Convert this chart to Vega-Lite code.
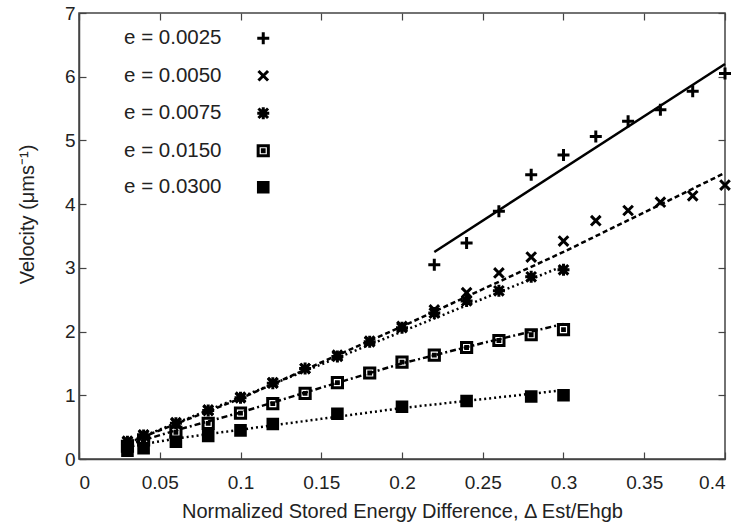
{
  "$schema": "https://vega.github.io/schema/vega-lite/v6.json",
  "autosize": {"type": "none"},
  "width": 646,
  "height": 446,
  "padding": {"left": 79, "top": 13, "right": 18, "bottom": 71},
  "background": "white",
  "config": {
    "view": {"stroke": "#444", "strokeWidth": 1.5},
    "font": "Liberation Sans",
    "axis": {
      "grid": false,
      "domainColor": "#444",
      "domainWidth": 1.5,
      "tickColor": "#444",
      "tickWidth": 1.2,
      "tickSize": -7,
      "labelFont": "Liberation Sans",
      "labelFontSize": 19,
      "labelColor": "#222",
      "titleFont": "Liberation Sans",
      "titleFontSize": 20,
      "titleFontWeight": "normal",
      "titleColor": "#222"
    }
  },
  "datasets": {
    "pts": [
      {"series": "e = 0.0025", "x": 0.22, "v": 3.05},
      {"series": "e = 0.0025", "x": 0.24, "v": 3.39},
      {"series": "e = 0.0025", "x": 0.26, "v": 3.89},
      {"series": "e = 0.0025", "x": 0.28, "v": 4.46},
      {"series": "e = 0.0025", "x": 0.30, "v": 4.77},
      {"series": "e = 0.0025", "x": 0.32, "v": 5.06},
      {"series": "e = 0.0025", "x": 0.34, "v": 5.30},
      {"series": "e = 0.0025", "x": 0.36, "v": 5.48},
      {"series": "e = 0.0025", "x": 0.38, "v": 5.77},
      {"series": "e = 0.0025", "x": 0.40, "v": 6.05},
      {"series": "e = 0.0050", "x": 0.03, "v": 0.28},
      {"series": "e = 0.0050", "x": 0.04, "v": 0.38},
      {"series": "e = 0.0050", "x": 0.06, "v": 0.57},
      {"series": "e = 0.0050", "x": 0.08, "v": 0.77},
      {"series": "e = 0.0050", "x": 0.10, "v": 0.97},
      {"series": "e = 0.0050", "x": 0.12, "v": 1.20},
      {"series": "e = 0.0050", "x": 0.14, "v": 1.42},
      {"series": "e = 0.0050", "x": 0.16, "v": 1.63},
      {"series": "e = 0.0050", "x": 0.18, "v": 1.85},
      {"series": "e = 0.0050", "x": 0.20, "v": 2.08},
      {"series": "e = 0.0050", "x": 0.22, "v": 2.34},
      {"series": "e = 0.0050", "x": 0.24, "v": 2.61},
      {"series": "e = 0.0050", "x": 0.26, "v": 2.92},
      {"series": "e = 0.0050", "x": 0.28, "v": 3.17},
      {"series": "e = 0.0050", "x": 0.30, "v": 3.42},
      {"series": "e = 0.0050", "x": 0.32, "v": 3.74},
      {"series": "e = 0.0050", "x": 0.34, "v": 3.90},
      {"series": "e = 0.0050", "x": 0.36, "v": 4.03},
      {"series": "e = 0.0050", "x": 0.38, "v": 4.13},
      {"series": "e = 0.0050", "x": 0.40, "v": 4.30},
      {"series": "e = 0.0075", "x": 0.03, "v": 0.27},
      {"series": "e = 0.0075", "x": 0.04, "v": 0.37},
      {"series": "e = 0.0075", "x": 0.06, "v": 0.56},
      {"series": "e = 0.0075", "x": 0.08, "v": 0.76},
      {"series": "e = 0.0075", "x": 0.10, "v": 0.96},
      {"series": "e = 0.0075", "x": 0.12, "v": 1.19},
      {"series": "e = 0.0075", "x": 0.14, "v": 1.42},
      {"series": "e = 0.0075", "x": 0.16, "v": 1.61},
      {"series": "e = 0.0075", "x": 0.18, "v": 1.84},
      {"series": "e = 0.0075", "x": 0.20, "v": 2.06},
      {"series": "e = 0.0075", "x": 0.22, "v": 2.29},
      {"series": "e = 0.0075", "x": 0.24, "v": 2.48},
      {"series": "e = 0.0075", "x": 0.26, "v": 2.64},
      {"series": "e = 0.0075", "x": 0.28, "v": 2.86},
      {"series": "e = 0.0075", "x": 0.30, "v": 2.97},
      {"series": "e = 0.0150", "x": 0.03, "v": 0.20},
      {"series": "e = 0.0150", "x": 0.04, "v": 0.30},
      {"series": "e = 0.0150", "x": 0.06, "v": 0.42},
      {"series": "e = 0.0150", "x": 0.08, "v": 0.56},
      {"series": "e = 0.0150", "x": 0.10, "v": 0.72},
      {"series": "e = 0.0150", "x": 0.12, "v": 0.87},
      {"series": "e = 0.0150", "x": 0.14, "v": 1.03},
      {"series": "e = 0.0150", "x": 0.16, "v": 1.20},
      {"series": "e = 0.0150", "x": 0.18, "v": 1.35},
      {"series": "e = 0.0150", "x": 0.20, "v": 1.52},
      {"series": "e = 0.0150", "x": 0.22, "v": 1.63},
      {"series": "e = 0.0150", "x": 0.24, "v": 1.75},
      {"series": "e = 0.0150", "x": 0.26, "v": 1.86},
      {"series": "e = 0.0150", "x": 0.28, "v": 1.95},
      {"series": "e = 0.0150", "x": 0.30, "v": 2.03},
      {"series": "e = 0.0300", "x": 0.03, "v": 0.13},
      {"series": "e = 0.0300", "x": 0.04, "v": 0.17},
      {"series": "e = 0.0300", "x": 0.06, "v": 0.27},
      {"series": "e = 0.0300", "x": 0.08, "v": 0.36},
      {"series": "e = 0.0300", "x": 0.10, "v": 0.45},
      {"series": "e = 0.0300", "x": 0.12, "v": 0.55},
      {"series": "e = 0.0300", "x": 0.16, "v": 0.71},
      {"series": "e = 0.0300", "x": 0.20, "v": 0.82},
      {"series": "e = 0.0300", "x": 0.24, "v": 0.91},
      {"series": "e = 0.0300", "x": 0.28, "v": 0.98},
      {"series": "e = 0.0300", "x": 0.30, "v": 1.00}
    ],
    "fits": [
      {"curve": "e = 0.0025", "x": 0.22, "v": 3.25},
      {"curve": "e = 0.0025", "x": 0.40, "v": 6.20},
      {"curve": "e = 0.0050", "x": 0.03, "v": 0.25},
      {"curve": "e = 0.0050", "x": 0.10, "v": 0.95},
      {"curve": "e = 0.0050", "x": 0.20, "v": 2.08},
      {"curve": "e = 0.0050", "x": 0.30, "v": 3.25},
      {"curve": "e = 0.0050", "x": 0.40, "v": 4.49},
      {"curve": "e = 0.0075", "x": 0.03, "v": 0.26},
      {"curve": "e = 0.0075", "x": 0.10, "v": 0.97},
      {"curve": "e = 0.0075", "x": 0.20, "v": 2.00},
      {"curve": "e = 0.0075", "x": 0.30, "v": 3.03},
      {"curve": "e = 0.0150", "x": 0.03, "v": 0.22},
      {"curve": "e = 0.0150", "x": 0.06, "v": 0.45},
      {"curve": "e = 0.0150", "x": 0.10, "v": 0.73},
      {"curve": "e = 0.0150", "x": 0.15, "v": 1.12},
      {"curve": "e = 0.0150", "x": 0.20, "v": 1.50},
      {"curve": "e = 0.0150", "x": 0.25, "v": 1.82},
      {"curve": "e = 0.0150", "x": 0.30, "v": 2.12},
      {"curve": "e = 0.0300", "x": 0.03, "v": 0.19},
      {"curve": "e = 0.0300", "x": 0.06, "v": 0.32},
      {"curve": "e = 0.0300", "x": 0.10, "v": 0.46},
      {"curve": "e = 0.0300", "x": 0.15, "v": 0.63},
      {"curve": "e = 0.0300", "x": 0.20, "v": 0.80},
      {"curve": "e = 0.0300", "x": 0.25, "v": 0.94},
      {"curve": "e = 0.0300", "x": 0.30, "v": 1.08}
    ]
  },
  "layer": [
    {
      "data": {"name": "fits"},
      "transform": [{"filter": {"field": "curve", "equal": "e = 0.0025"}}],
      "mark": {"type": "line", "color": "black", "strokeWidth": 2.5},
      "encoding": {
        "x": {"field": "x", "type": "quantitative", "scale": {"domain": [0, 0.4], "nice": false},
              "axis": {"orient": "top", "labels": false, "title": null, "values": [0, 0.05, 0.1, 0.15, 0.2, 0.25, 0.3, 0.35, 0.4], "domain": false}},
        "y": {"field": "v", "type": "quantitative", "scale": {"domain": [0, 7], "nice": false},
              "axis": {"orient": "right", "labels": false, "title": null, "values": [0, 1, 2, 3, 4, 5, 6, 7], "domain": false}}
      }
    },
    {
      "data": {"name": "fits"},
      "transform": [{"filter": {"field": "curve", "equal": "e = 0.0050"}}],
      "mark": {"type": "line", "color": "black", "strokeWidth": 2.5, "strokeDash": [5, 3]},
      "encoding": {
        "x": {"field": "x", "type": "quantitative", "scale": {"domain": [0, 0.4], "nice": false}, "axis": null},
        "y": {"field": "v", "type": "quantitative", "scale": {"domain": [0, 7], "nice": false}, "axis": null}
      }
    },
    {
      "data": {"name": "fits"},
      "transform": [{"filter": {"field": "curve", "equal": "e = 0.0075"}}],
      "mark": {"type": "line", "color": "black", "strokeWidth": 2.5, "strokeDash": [2, 3]},
      "encoding": {
        "x": {"field": "x", "type": "quantitative", "scale": {"domain": [0, 0.4], "nice": false}, "axis": null},
        "y": {"field": "v", "type": "quantitative", "scale": {"domain": [0, 7], "nice": false}, "axis": null}
      }
    },
    {
      "data": {"name": "fits"},
      "transform": [{"filter": {"field": "curve", "equal": "e = 0.0150"}}],
      "mark": {"type": "line", "color": "black", "strokeWidth": 2.5, "strokeDash": [6, 3, 2, 3]},
      "encoding": {
        "x": {"field": "x", "type": "quantitative", "scale": {"domain": [0, 0.4], "nice": false}, "axis": null},
        "y": {"field": "v", "type": "quantitative", "scale": {"domain": [0, 7], "nice": false}, "axis": null}
      }
    },
    {
      "data": {"name": "fits"},
      "transform": [{"filter": {"field": "curve", "equal": "e = 0.0300"}}],
      "mark": {"type": "line", "color": "black", "strokeWidth": 2.5, "strokeDash": [2, 3]},
      "encoding": {
        "x": {"field": "x", "type": "quantitative", "scale": {"domain": [0, 0.4], "nice": false}, "axis": null},
        "y": {"field": "v", "type": "quantitative", "scale": {"domain": [0, 7], "nice": false}, "axis": null}
      }
    },
    {
      "data": {"name": "pts"},
      "mark": {"type": "point", "filled": false, "stroke": "black", "strokeWidth": 3, "size": 144, "opacity": 1},
      "encoding": {
        "x": {"field": "x", "type": "quantitative", "scale": {"domain": [0, 0.4], "nice": false},
              "axis": {"orient": "bottom", "title": "Normalized Stored Energy Difference, Δ Est/Ehgb", "values": [0, 0.05, 0.1, 0.15, 0.2, 0.25, 0.3, 0.35, 0.4], "format": "~g", "labelPadding": 21, "titlePadding": 9}},
        "y": {"field": "v", "type": "quantitative", "scale": {"domain": [0, 7], "nice": false},
              "axis": {"orient": "left", "title": "Velocity (μms⁻¹)", "values": [0, 1, 2, 3, 4, 5, 6, 7], "format": "d", "labelPadding": 11, "titleX": -42, "titleY": 201}},
        "shape": {"field": "series", "type": "nominal",
          "scale": {"domain": ["e = 0.0025", "e = 0.0050", "e = 0.0075", "e = 0.0150", "e = 0.0300"],
                    "range": ["M-1,0H1M0,-1V1", "M-0.8,-0.8L0.8,0.8M-0.8,0.8L0.8,-0.8", "M-0.8,-0.8L0.8,0.8M-0.8,0.8L0.8,-0.8M-1,0H1M0,-1V1M-0.4,-0.4H0.4V0.4H-0.4Z", "M-0.85,-0.85H0.85V0.85H-0.85ZM-0.15,-0.15H0.15V0.15H-0.15Z", "M-0.8,-0.8H0.8V0.8H-0.8ZM-0.35,-0.35H0.35V0.35H-0.35ZM0,-0.1V0.1"]},
          "legend": {"orient": "none", "legendX": 174, "legendY": 15, "title": null, "padding": 0,
                     "labelAlign": "right", "labelOffset": -52, "labelFontSize": 20.5, "labelFont": "Liberation Sans", "labelColor": "#222",
                     "rowPadding": 13.5, "symbolSize": 144, "symbolStrokeWidth": 3, "symbolStrokeColor": "black"}}
      }
    }
  ],
  "resolve": {"axis": {"x": "independent", "y": "independent"}}
}
